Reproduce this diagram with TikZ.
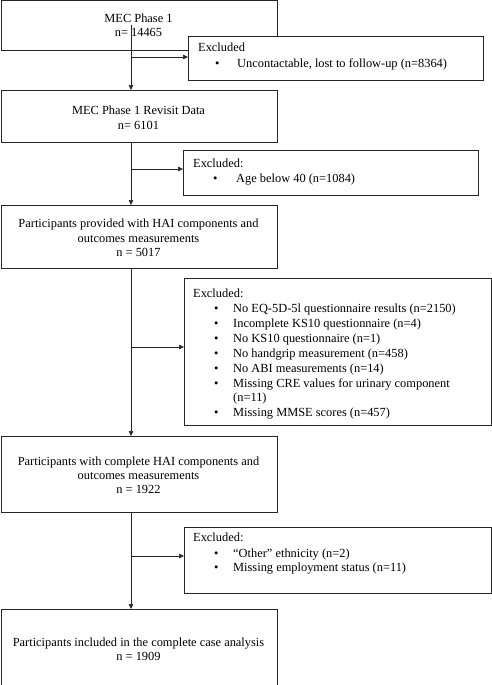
\documentclass[tikz,border=0pt]{standalone}
\usepackage{fontspec}
\setmainfont{Liberation Serif}
\usetikzlibrary{arrows.meta}
\begin{document}
\begin{tikzpicture}[x=1pt,y=-1pt,
  box/.style={draw=black!85,fill=white,line width=0.8pt,inner sep=0pt,anchor=north west},
  txt/.style={anchor=base,inner sep=0pt,font=\fontsize{12.4}{14.7}\selectfont},
  ltxt/.style={anchor=base west,inner sep=0pt,font=\fontsize{12.4}{14.7}\selectfont},
  arr/.style={draw=black!85,line width=0.6pt,-{Triangle[length=5pt,width=4.5pt]}}]
\useasboundingbox (0,0) rectangle (492,685);
% main boxes
\node[box,minimum width=276.5pt,minimum height=50pt] (b1) at (0.5,0.5) {};
\node[box,minimum width=276.5pt,minimum height=52pt] (b2) at (0.5,90) {};
\node[box,minimum width=276.5pt,minimum height=63pt] (b3) at (0.5,205) {};
\node[box,minimum width=276.5pt,minimum height=76pt] (b4) at (0.5,436) {};
\node[box,minimum width=276.5pt,minimum height=85pt] (b5) at (0.5,609) {};
% excluded boxes
\node[box,minimum width=295pt,minimum height=44pt] (e1) at (188,36) {};
\node[box,minimum width=295pt,minimum height=45pt] (e2) at (183,150) {};
\node[box,minimum width=307pt,minimum height=147pt] (e3) at (184,278) {};
\node[box,minimum width=307pt,minimum height=66pt] (e4) at (184,527) {};
% main texts
\node[txt] (t11) at (138.5,23) {MEC Phase 1};
\node[txt] (t12) at (138.5,37) {n= 14465};
\node[txt] (t21) at (138.5,114) {MEC Phase 1 Revisit Data};
\node[txt] (t22) at (138.5,129) {n= 6101};
\node[txt] (t31) at (138.5,227) {Participants provided with HAI components and};
\node[txt] (t32) at (138.5,242) {outcomes measurements};
\node[txt] (t33) at (138.5,256) {n = 5017};
\node[txt] (t41) at (138.5,465) {Participants with complete HAI components and};
\node[txt] (t42) at (138.5,479) {outcomes measurements};
\node[txt] (t43) at (138.5,493) {n = 1922};
\node[txt] (t51) at (138.5,646) {Participants included in the complete case analysis};
\node[txt] (t52) at (138.5,660) {n = 1909};
% excluded texts
\node[ltxt] (x10) at (198,52) {Excluded};
\node[ltxt] (x1b) at (215,67) {\textbullet};
\node[ltxt] (x11) at (237,67) {Uncontactable, lost to follow-up (n=8364)};
\node[ltxt] (x20) at (193,167) {Excluded:};
\node[ltxt] (x2b) at (213,182) {\textbullet};
\node[ltxt] (x21) at (236,182) {Age below 40 (n=1084)};
\node[ltxt] (x30) at (193,297) {Excluded:};
\node[ltxt] (x3b1) at (214,312) {\textbullet};
\node[ltxt] (x31) at (233,312) {No EQ-5D-5l questionnaire results (n=2150)};
\node[ltxt] (x3b2) at (214,327) {\textbullet};
\node[ltxt] (x32) at (233,327) {Incomplete KS10 questionnaire (n=4)};
\node[ltxt] (x3b3) at (214,342) {\textbullet};
\node[ltxt] (x33) at (233,342) {No KS10 questionnaire (n=1)};
\node[ltxt] (x3b4) at (214,357) {\textbullet};
\node[ltxt] (x34) at (233,357) {No handgrip measurement (n=458)};
\node[ltxt] (x3b5) at (214,372) {\textbullet};
\node[ltxt] (x35) at (233,372) {No ABI measurements (n=14)};
\node[ltxt] (x3b6) at (214,387) {\textbullet};
\node[ltxt] (x36) at (233,387) {Missing CRE values for urinary component};
\node[ltxt] (x36b) at (233,401) {(n=11)};
\node[ltxt] (x3b7) at (214,416) {\textbullet};
\node[ltxt] (x37) at (233,416) {Missing MMSE scores (n=457)};
\node[ltxt] (x40) at (193,541) {Excluded:};
\node[ltxt] (x4b1) at (214,557) {\textbullet};
\node[ltxt] (x41) at (233,557) {“Other” ethnicity (n=2)};
\node[ltxt] (x4b2) at (214,571) {\textbullet};
\node[ltxt] (x42) at (233,571) {Missing employment status (n=11)};
% connectors
\coordinate (s1) at (131,25);
\coordinate (h1) at (131,57);
\coordinate (h2) at (131,169);
\coordinate (h3) at (131,347);
\coordinate (h4) at (131,556);
\draw[arr] (s1) -- (s1 |- b2.north);
\draw[arr] (s1 |- b2.south) -- (s1 |- b3.north);
\draw[arr] (s1 |- b3.south) -- (s1 |- b4.north);
\draw[arr] (s1 |- b4.south) -- (s1 |- b5.north);
\draw[arr] (h1) -- (h1 -| e1.west);
\draw[arr] (h2) -- (h2 -| e2.west);
\draw[arr] (h3) -- (h3 -| e3.west);
\draw[arr] (h4) -- (h4 -| e4.west);
\end{tikzpicture}
\end{document}
